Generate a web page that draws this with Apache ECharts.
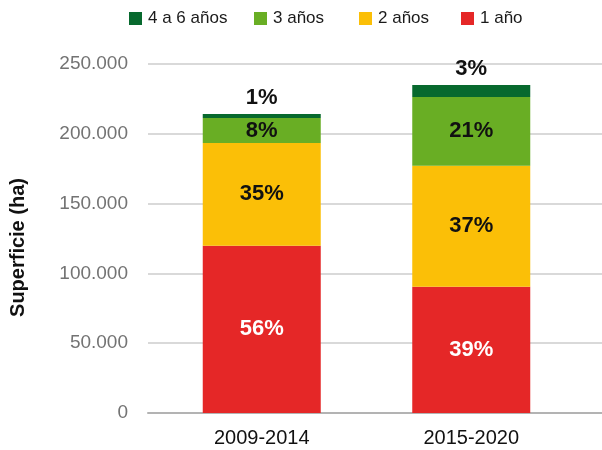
<!DOCTYPE html>
<html>
<head>
<meta charset="utf-8">
<script src="https://cdn.jsdelivr.net/npm/echarts@6/dist/echarts.min.js"></script>
<style>html,body{margin:0;padding:0;background:#fff;}#c{width:602px;height:450px;}</style>
</head>
<body>
<div id="c"></div>
<script>
var categories = ['2009-2014', '2015-2020'];
var seriesNames = ['1 año', '2 años', '3 años', '4 a 6 años'];
var unoAno = [119800, 90500];
var dosAnos = [73600, 86600];
var tresAnos = [17900, 49300];
var cuatroSeisAnos = [2900, 8600];
var pctUno = ['56%', '39%'];
var pctDos = ['35%', '37%'];
var pctTres = ['8%', '21%'];
var pctCuatro = ['1%', '3%'];
var yTicks = [0, 50000, 100000, 150000, 200000, 250000];

var colors = ['#e52727', '#fbbf07', '#69ae24', '#07692e'];
var FONT = 'Liberation Sans';

var chart = echarts.init(document.getElementById('c'), null, {renderer: 'canvas'});

function fmtThousands(v) {
  return String(v).replace(/\B(?=(\d{3})+(?!\d))/g, '.');
}

function mkSeries(name, data, pct, color, labelColor, pos) {
  return {
    name: name,
    type: 'bar',
    stack: 'total',
    xAxisIndex: 1,
    yAxisIndex: 1,
    barWidth: 118,
    data: data,
    itemStyle: {color: color},
    label: {
      show: true,
      position: pos,
      distance: 5,
      fontFamily: FONT,
      fontSize: 22,
      fontWeight: 'bold',
      color: labelColor,
      formatter: function (p) { return pct[p.dataIndex]; }
    },
    emphasis: {disabled: true}
  };
}

function mkLegend(name, left) {
  return {
    data: [name],
    left: left,
    top: 10,
    itemWidth: 13,
    itemHeight: 13,
    itemGap: 0,
    icon: 'rect',
    textStyle: {fontFamily: FONT, fontSize: 17, color: '#1a1a1a', padding: [0, 0, 0, 1]},
    padding: 0,
    selectedMode: false
  };
}

chart.setOption({
  animation: false,
  textStyle: {fontFamily: FONT},
  legend: [
    mkLegend('4 a 6 años', 129),
    mkLegend('3 años', 254),
    mkLegend('2 años', 359),
    mkLegend('1 año', 461)
  ],
  grid: [
    {left: 145, right: 0, top: 64, bottom: 37},
    {left: 157, right: 26, top: 64, bottom: 37}
  ],
  xAxis: [
    {
      type: 'value', gridIndex: 0, min: 0, max: 1,
      axisLine: {show: true, onZero: false, lineStyle: {color: '#b3b3b3', width: 2}},
      axisTick: {show: false}, axisLabel: {show: false}, splitLine: {show: false}
    },
    {
      type: 'category', gridIndex: 1, data: categories,
      axisLine: {show: false}, axisTick: {show: false},
      axisLabel: {fontFamily: FONT, fontSize: 20, color: '#111', margin: 15},
      splitLine: {show: false}
    }
  ],
  yAxis: [
    {
      type: 'value', gridIndex: 0, min: 0, max: 250000, interval: 50000,
      name: 'Superficie (ha)', nameLocation: 'middle', nameGap: 120,
      nameTextStyle: {fontFamily: FONT, fontSize: 20, fontWeight: 'bold', color: '#111', padding: [0, 18, 0, 0]},
      axisLine: {show: false}, axisTick: {show: false},
      axisLabel: {fontFamily: FONT, fontSize: 19, color: '#737373', margin: 20,
        formatter: function (v) { return yTicks.indexOf(v) >= 0 ? fmtThousands(v) : ''; }},
      splitLine: {lineStyle: {color: '#d9d9d9', width: 2}}
    },
    {
      type: 'value', gridIndex: 1, min: 0, max: 250000, interval: 50000,
      show: false, splitLine: {show: false}
    }
  ],
  series: [
    mkSeries(seriesNames[0], unoAno, pctUno, colors[0], '#ffffff', 'inside'),
    mkSeries(seriesNames[1], dosAnos, pctDos, colors[1], '#111111', 'inside'),
    mkSeries(seriesNames[2], tresAnos, pctTres, colors[2], '#111111', 'inside'),
    mkSeries(seriesNames[3], cuatroSeisAnos, pctCuatro, colors[3], '#111111', 'top')
  ]
});
</script>
</body>
</html>
